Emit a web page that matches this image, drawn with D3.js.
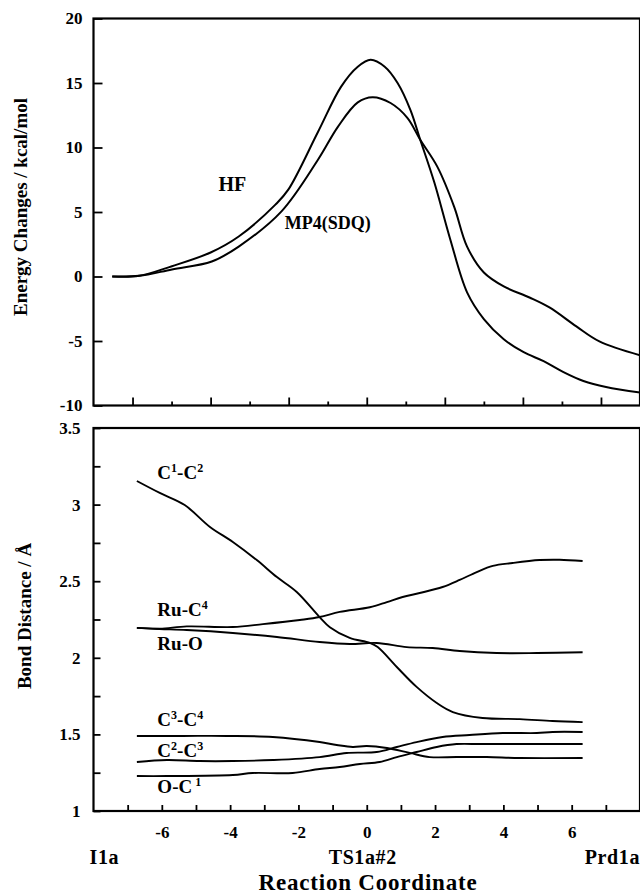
<!DOCTYPE html>
<html><head><meta charset="utf-8">
<script src="https://cdn.jsdelivr.net/npm/d3@7"></script>
<style>
body{margin:0;background:#fff}
svg{display:block}
svg text, svg tspan{font-family:"Liberation Serif","Times New Roman",Times,serif !important;font-weight:bold !important;fill:#000}
</style>
</head><body>
<svg id="c" width="640" height="894"></svg>
<script>
// ---------- DATA ----------
// Top panel: energy changes (kcal/mol) vs reaction coordinate
const hfPoints = [[-6.52,0],[-5.83,0.05],[-4.99,0.8],[-4.0,1.86],[-3.28,3.1],[-2.34,5.57],[-2.01,6.73],
  [-1.25,11.2],[-0.66,14.7],[-0.23,16.26],[0.1,16.8],[0.46,16.26],[0.79,15.0],[1.12,12.9],[1.37,10.6],
  [1.73,7.3],[2.14,2.87],[2.57,-1.23],[3.0,-3.3],[3.51,-4.86],[4.02,-5.87],[4.53,-6.56],[5.04,-7.41],
  [5.55,-8.1],[6.13,-8.57],[7.0,-9.0]];
const mp4Points = [[-6.52,0],[-5.83,0.05],[-4.99,0.55],[-3.97,1.16],[-3.28,2.32],[-2.19,5.03],[-1.25,9.05],
  [-0.74,11.6],[-0.23,13.5],[0.15,13.9],[0.61,13.45],[1.04,12.3],[1.37,10.6],[1.81,8.5],[2.24,5.4],
  [2.57,2.32],[3.0,0.31],[3.51,-0.77],[4.17,-1.63],[4.68,-2.4],[5.37,-3.87],[5.96,-5.03],[7.0,-6.1]];
const energyLabels = [{name:"HF", x:-3.8, y:6.6},{name:"MP4(SDQ)", x:-2.1, y:3.7}];
const energyYTicks = [-10,-5,0,5,10,15,20];
const energyXMajor = [-6,-4,-2,0,2,4,6];
const energyXMinor = [-5,-3,-1,1,3,5];

// Bottom panel: bond distances (Å)
const c1c2 = [[-6.73,3.154],[-6.06,3.076],[-5.33,2.997],[-4.59,2.854],[-3.92,2.756],[-3.22,2.638],[-2.63,2.527],
  [-2.05,2.43],[-1.38,2.266],[-1.08,2.20],[-0.5,2.13],[0.09,2.097],[0.32,2.07],[0.88,1.94],[1.46,1.81],
  [2.05,1.705],[2.52,1.646],[3.39,1.607],[4.48,1.60],[5.44,1.587],[6.32,1.58]];
const ruC4 = [[-6.73,2.195],[-6.06,2.19],[-5.27,2.205],[-3.92,2.201],[-3.04,2.22],[-1.96,2.247],[-1.38,2.266],
  [-0.79,2.30],[0.09,2.33],[0.59,2.364],[1.05,2.397],[1.55,2.423],[2.22,2.462],[2.72,2.508],[3.22,2.56],
  [3.69,2.60],[4.27,2.619],[5.06,2.638],[5.65,2.64],[6.32,2.632]];
const ruO = [[-6.73,2.195],[-6.06,2.188],[-5.27,2.181],[-3.92,2.162],[-2.63,2.136],[-1.38,2.103],[-0.5,2.09],
  [0.29,2.097],[1.17,2.07],[1.93,2.064],[2.72,2.044],[3.80,2.031],[4.98,2.031],[6.32,2.036]];
const c3c4 = [[-6.73,1.49],[-5.38,1.49],[-4.10,1.49],[-2.75,1.483],[-1.38,1.45],[-0.88,1.431],[-0.41,1.418],
  [0.0,1.424],[0.59,1.411],[1.26,1.379],[1.84,1.352],[2.63,1.352],[3.51,1.352],[4.48,1.346],[6.32,1.346]];
const c2c3 = [[-6.73,1.32],[-5.85,1.333],[-4.89,1.326],[-3.92,1.326],[-2.75,1.333],[-1.38,1.352],[-0.59,1.379],
  [0.29,1.385],[0.88,1.418],[1.46,1.45],[2.22,1.483],[3.01,1.496],[3.98,1.509],[4.98,1.509],[5.44,1.516],[6.32,1.516]];
const oC1 = [[-6.73,1.228],[-5.85,1.228],[-3.92,1.235],[-3.34,1.248],[-2.17,1.248],[-1.38,1.274],[-0.79,1.287],
  [-0.2,1.307],[0.38,1.32],[0.88,1.352],[1.46,1.385],[2.05,1.418],[2.63,1.437],[3.31,1.437],[4.10,1.437],[6.32,1.437]];
const bondSeries = [c1c2, ruC4, ruO, c3c4, c2c3, oC1];
const bondLabels = [
  {parts:[["C",0],["1",1],["-C",0],["2",1]], x:-6.13, y:3.17},
  {parts:[["Ru-C",0],["4",1]], x:-6.13, y:2.27},
  {parts:[["Ru-O",0]], x:-6.13, y:2.05},
  {parts:[["C",0],["3",1],["-C",0],["4",1]], x:-6.13, y:1.555},
  {parts:[["C",0],["2",1],["-C",0],["3",1]], x:-6.13, y:1.35},
  {parts:[["O-C",0],[" 1",1]], x:-6.13, y:1.12}
];
const bondYTicks = [1,1.5,2,2.5,3,3.5];
const bondYMinor = [1.25,1.75,2.25,2.75,3.25];
const bondXTicks = [-6,-4,-2,0,2,4,6];
const bondXMinor = [-7,-5,-3,-1,1,3,5,7];
const pointLabels = [{name:"I1a", x:-8, anchor:"start"},{name:"TS1a#2", x:0, anchor:"middle"},{name:"Prd1a", x:8, anchor:"end"}];

// ---------- DRAW ----------
const FONT = "'Liberation Serif','Times New Roman',Times,serif";
const svg = d3.select("#c");
const L = 93.5, R = 640;
const hyphenFmt = d => (d < 0 ? "-" + Math.abs(d) : String(d));

function inwardAxis(g, axis){
  g.call(axis);
  g.attr("font-family", FONT).attr("font-weight","bold");
  g.select(".domain").remove();
  g.selectAll("line").attr("stroke","#000").attr("stroke-width",1.8);
  g.selectAll("text").attr("fill","#000").style("font-family",FONT).style("font-weight","bold");
}
function label(sel){ return sel.style("font-family",FONT).style("font-weight","bold").attr("fill","#000"); }

// ===== Top panel =====
const xT = d3.scaleLinear().domain([-7,7]).range([L,R]);
const yT = d3.scaleLinear().domain([-10,20]).range([405.5,18.5]);
const gT = svg.append("g");

const yAxT = gT.append("g").attr("transform",`translate(${L},0)`);
inwardAxis(yAxT, d3.axisLeft(yT).tickValues(energyYTicks).tickSize(-9).tickSizeOuter(0).tickPadding(11).tickFormat(hyphenFmt));
yAxT.selectAll("text").style("font-size","17px");

const xAxT1 = gT.append("g").attr("transform",`translate(0,${yT(-10)})`);
inwardAxis(xAxT1, d3.axisBottom(xT).tickValues(energyXMajor).tickSize(-8).tickSizeOuter(0).tickFormat(""));
const xAxT2 = gT.append("g").attr("transform",`translate(0,${yT(-10)})`);
inwardAxis(xAxT2, d3.axisBottom(xT).tickValues(energyXMinor).tickSize(-4).tickSizeOuter(0).tickFormat(""));

gT.append("rect").attr("x",L).attr("y",yT(20)).attr("width",R-L).attr("height",yT(-10)-yT(20))
  .attr("fill","none").attr("stroke","#000").attr("stroke-width",2.2);

const lineT = d3.line().x(d=>xT(d[0])).y(d=>yT(d[1])).curve(d3.curveCatmullRom.alpha(0.5));
[hfPoints, mp4Points].forEach(s=>{
  gT.append("path").attr("d",lineT(s)).attr("fill","none").attr("stroke","#000").attr("stroke-width",2);
});
energyLabels.forEach(l=>{
  label(gT.append("text")).attr("x",xT(l.x)).attr("y",yT(l.y)).style("font-size", l.name==="HF"?"20px":"18px").text(l.name);
});

label(svg.append("text")).attr("transform",`translate(27,207) rotate(-90)`).attr("text-anchor","middle")
  .style("font-size","19px").text("Energy Changes / kcal/mol");

// ===== Bottom panel =====
const xB = d3.scaleLinear().domain([-8,8]).range([L,R]);
const yB = d3.scaleLinear().domain([1,3.5]).range([811,428]);
const gB = svg.append("g");

const yAxB = gB.append("g").attr("transform",`translate(${L},0)`);
inwardAxis(yAxB, d3.axisLeft(yB).tickValues(bondYTicks).tickSize(-7).tickSizeOuter(0).tickPadding(13).tickFormat(hyphenFmt));
yAxB.selectAll("text").style("font-size","17px");
const yAxB2 = gB.append("g").attr("transform",`translate(${L},0)`);
inwardAxis(yAxB2, d3.axisLeft(yB).tickValues(bondYMinor).tickSize(-7).tickSizeOuter(0).tickFormat(""));

const xAxB = gB.append("g").attr("transform",`translate(0,${yB(1)})`);
inwardAxis(xAxB, d3.axisBottom(xB).tickValues(bondXTicks).tickSize(-6).tickSizeOuter(0).tickPadding(15).tickFormat(hyphenFmt));
xAxB.selectAll("text").style("font-size","17px");
const xAxB2 = gB.append("g").attr("transform",`translate(0,${yB(1)})`);
inwardAxis(xAxB2, d3.axisBottom(xB).tickValues(bondXMinor).tickSize(-6).tickSizeOuter(0).tickFormat(""));

gB.append("rect").attr("x",L).attr("y",yB(3.5)).attr("width",R-L).attr("height",yB(1)-yB(3.5))
  .attr("fill","none").attr("stroke","#000").attr("stroke-width",2.2);

const lineB = d3.line().x(d=>xB(d[0])).y(d=>yB(d[1])).curve(d3.curveCatmullRom.alpha(0.5));
bondSeries.forEach(s=>{
  gB.append("path").attr("d",lineB(s)).attr("fill","none").attr("stroke","#000").attr("stroke-width",1.9);
});
bondLabels.forEach(l=>{
  const t = label(gB.append("text")).attr("x",xB(l.x)).attr("y",yB(l.y)).style("font-size","19px");
  let prevSup = false;
  l.parts.forEach(p=>{
    const ts = label(t.append("tspan")).text(p[0]);
    if(p[1]){ ts.style("font-size","12px").attr("dy","-7"); prevSup = true; }
    else if(prevSup){ ts.attr("dy","7"); prevSup = false; }
  });
});

label(svg.append("text")).attr("transform",`translate(31,616) rotate(-90)`).attr("text-anchor","middle")
  .style("font-size","19px").text("Bond Distance / Å");

pointLabels.forEach(p=>{
  label(svg.append("text")).attr("x",xB(p.x)+(p.anchor==="start"?-4:p.anchor==="middle"?-4:0)).attr("y",864)
    .attr("text-anchor",p.anchor).style("font-size","20px").style("letter-spacing","0.6px").text(p.name);
});
label(svg.append("text")).attr("x",368).attr("y",890).attr("text-anchor","middle").style("font-size","23px")
  .style("letter-spacing","0.8px").text("Reaction Coordinate");
</script>
</body></html>
